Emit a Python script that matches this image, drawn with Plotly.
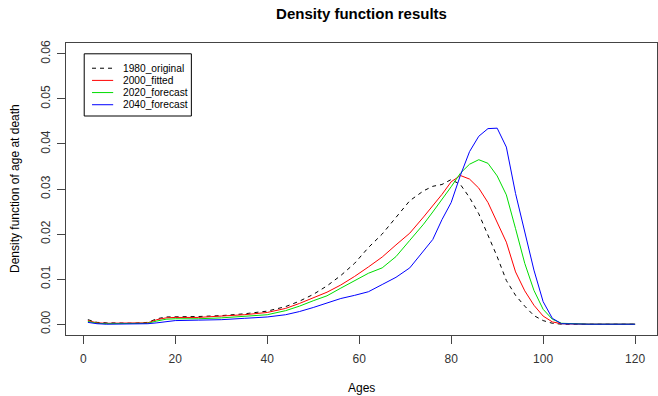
import plotly.graph_objects as go

ages = [1, 3, 5, 8, 11, 14, 16, 18, 20, 25, 30, 35, 40, 44, 47, 50, 53, 56, 59, 62,
        65, 68, 71, 74, 76, 78, 80, 82, 84, 86, 88, 90, 92, 94, 96, 98, 100, 102, 104, 110, 120]

d1980_original = [0.0010, 0.0004, 0.0003, 0.0002, 0.0002, 0.0004, 0.0012, 0.0016, 0.0016, 0.0017,
                  0.0019, 0.0023, 0.0029, 0.0039, 0.0051, 0.0066, 0.0085, 0.0108, 0.0135, 0.0170,
                  0.0200, 0.0236, 0.0274, 0.0296, 0.0306, 0.0310, 0.0321, 0.0310, 0.0281, 0.0245,
                  0.0198, 0.0150, 0.0097, 0.0064, 0.0040, 0.0019, 0.0008, 0.0002, 0.0000, 0.0000, 0.0000]

d2000_fitted = [0.0008, 0.0003, 0.0002, 0.0002, 0.0002, 0.0003, 0.0010, 0.0014, 0.0015, 0.0015,
                0.0018, 0.0021, 0.0026, 0.0035, 0.0046, 0.0059, 0.0071, 0.0087, 0.0106, 0.0127,
                0.0149, 0.0176, 0.0202, 0.0238, 0.0263, 0.0288, 0.0316, 0.0330, 0.0322, 0.0302,
                0.0270, 0.0225, 0.0182, 0.0116, 0.0074, 0.0042, 0.0018, 0.0005, 0.0001, 0.0000, 0.0000]

d2020_forecast = [0.0006, 0.0002, 0.0001, 0.0001, 0.0001, 0.0002, 0.0007, 0.0011, 0.0012, 0.0012,
                  0.0014, 0.0017, 0.0021, 0.0030, 0.0040, 0.0052, 0.0063, 0.0080, 0.0097, 0.0113,
                  0.0125, 0.0150, 0.0186, 0.0222, 0.0249, 0.0276, 0.0305, 0.0335, 0.0355, 0.0365,
                  0.0357, 0.0329, 0.0287, 0.0212, 0.0135, 0.0075, 0.0033, 0.0011, 0.0002, 0.0000, 0.0000]

d2040_forecast = [0.0004, 0.0001, 0.0000, 0.0000, 0.0000, 0.0001, 0.0003, 0.0006, 0.0008, 0.0009,
                  0.0010, 0.0013, 0.0016, 0.0021, 0.0028, 0.0037, 0.0047, 0.0057, 0.0064, 0.0072,
                  0.0088, 0.0104, 0.0125, 0.0162, 0.0188, 0.0232, 0.0270, 0.0330, 0.0383, 0.0417,
                  0.0434, 0.0435, 0.0393, 0.0290, 0.0205, 0.0120, 0.0050, 0.0013, 0.0001, 0.0000, 0.0000]

series_names = ["1980_original", "2000_fitted", "2020_forecast", "2040_forecast"]
series_values = [d1980_original, d2000_fitted, d2020_forecast, d2040_forecast]
series_colors = ["#000000", "#FF0000", "#00DD00", "#0000FF"]
series_dash = ["4px,4px", "solid", "solid", "solid"]

x_ticks = [0, 20, 40, 60, 80, 100, 120]
y_ticks = [0.00, 0.01, 0.02, 0.03, 0.04, 0.05, 0.06]
y_ticklabels = ["0.00", "0.01", "0.02", "0.03", "0.04", "0.05", "0.06"]

FONT = "Liberation Sans, Arial, sans-serif"

fig = go.Figure()
for name, vals, col, dash in zip(series_names, series_values, series_colors, series_dash):
    fig.add_trace(go.Scatter(x=ages, y=vals, mode="lines", name=name,
                             line=dict(color=col, width=1, dash=dash), showlegend=False))

# legend (R style box)
leg_x0, leg_x1 = 0.2, 23.5
leg_y0, leg_y1 = 0.0462, 0.0600
row_y = [0.0568, 0.0541, 0.0514, 0.0487]
shapes = [dict(type="rect", xref="x", yref="y", x0=leg_x0, x1=leg_x1, y0=leg_y0, y1=leg_y1,
               line=dict(color="#000000", width=1), fillcolor="rgba(0,0,0,0)", layer="above")]
annotations = []
for name, col, dash, ry in zip(series_names, series_colors, series_dash, row_y):
    shapes.append(dict(type="line", xref="x", yref="y", x0=1.9, x1=6.5, y0=ry, y1=ry,
                       line=dict(color=col, width=1, dash=dash)))
    annotations.append(dict(x=8.1, y=ry, xref="x", yref="y", text=name, showarrow=False,
                            xanchor="left", yanchor="middle", font=dict(size=10.2, color="#000000")))

annotations.append(dict(x=0.5, y=0, xref="paper", yref="paper", text="Ages", showarrow=False,
                        xanchor="center", yanchor="middle", yshift=-53,
                        font=dict(size=12, color="#000000")))
annotations.append(dict(x=0, y=0.5, xref="paper", yref="paper", text="Density function of age at death",
                        showarrow=False, textangle=-90, xanchor="center", yanchor="middle", xshift=-51,
                        font=dict(size=12, color="#000000")))

fig.update_layout(
    width=658, height=396,
    margin=dict(l=66, r=1, t=43, b=61),
    paper_bgcolor="white", plot_bgcolor="white",
    font=dict(family=FONT, size=12, color="#000000"),
    title=dict(text="<b>Density function results</b>", x=0.5, xref="paper", xanchor="center",
               y=1 - 14 / 396, yref="container", yanchor="middle",
               font=dict(size=15, family=FONT, color="#000000")),
    shapes=shapes, annotations=annotations, showlegend=False,
)
fig.update_xaxes(range=[-3.76, 124.76], tickvals=x_ticks, ticks="outside", ticklen=8,
                 tickcolor="#444444", showline=True, linecolor="#444444", linewidth=1, mirror=True,
                 showgrid=False, zeroline=False, ticklabelstandoff=5,
                 tickfont=dict(size=12, color="#333333"))
fig.update_yaxes(range=[-0.0024, 0.0624], tickvals=y_ticks, ticktext=y_ticklabels, tickangle=-90,
                 ticks="outside", ticklen=8, tickcolor="#444444", showline=True, linecolor="#444444",
                 linewidth=1, mirror=True, showgrid=False, zeroline=False, ticklabelstandoff=2,
                 tickfont=dict(size=12, color="#333333"))

fig.write_html("out.html", config={"displayModeBar": False},
               post_script="document.body.style.margin='0';document.body.style.padding='0';")
